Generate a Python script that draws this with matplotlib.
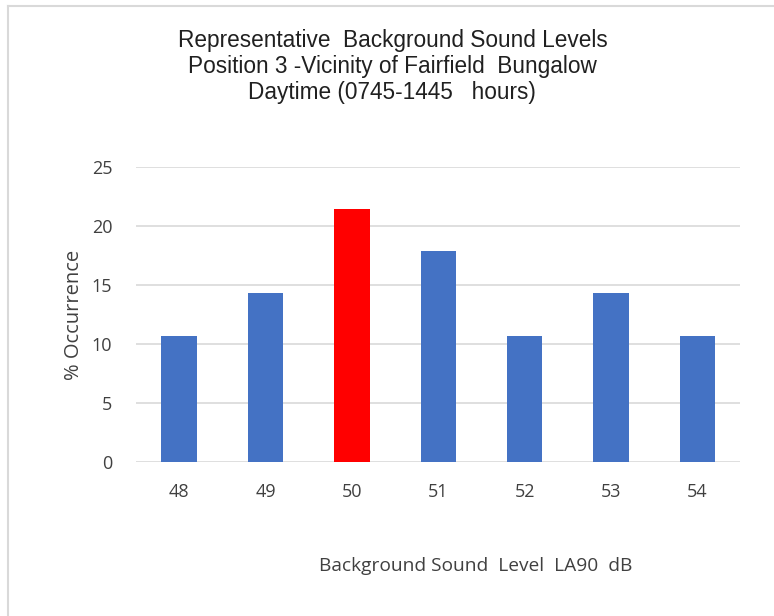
import matplotlib
matplotlib.use("Agg")
import matplotlib.pyplot as plt
from matplotlib.lines import Line2D

levels = ["48", "49", "50", "51", "52", "53", "54"]
occurrence = [10.71, 14.29, 21.43, 17.86, 10.71, 14.29, 10.71]
highlight = "50"

title_lines = [
    "Representative  Background Sound Levels",
    "Position 3 -Vicinity of Fairfield  Bungalow",
    "Daytime (0745-1445   hours)",
]

BLUE = "#4472c4"
RED = "#ff0000"
GRID = "#d9d9d9"
TEXT = "#404040"
body_font = ["Open Sans", "DejaVu Sans"]

fig = plt.figure(figsize=(7.74, 6.16), dpi=100)
ax = fig.add_axes([0.1757, 0.25, 0.781, 0.479])

colors = [RED if lv == highlight else BLUE for lv in levels]
ax.bar(range(len(levels)), occurrence, width=0.41, color=colors, zorder=3)

ax.set_xlim(-0.5, len(levels) - 0.5)
ax.set_ylim(0, 25)
ax.set_yticks(range(0, 26, 5))
ax.set_xticks(range(len(levels)))
ax.set_xticklabels(levels)
ax.yaxis.grid(True, color=GRID, lw=1.2, zorder=0)
ax.tick_params(length=0, labelsize=13, labelcolor=TEXT)
ax.tick_params(axis="x", pad=15)
ax.tick_params(axis="y", pad=17)
for lab in ax.get_xticklabels() + ax.get_yticklabels():
    lab.set_family(body_font)
for s in ax.spines.values():
    s.set_visible(False)

ax.set_ylabel("% Occurrence", fontsize=14.5, color=TEXT, family=body_font,
              labelpad=6)
fig.text(0.614, 0.081, "Background Sound  Level  LA90  dB", ha="center",
         va="center", fontsize=13.8, color=TEXT, family=body_font)

for i, line in enumerate(title_lines):
    fig.text(0.507, 1 - (40 + 26 * i) / 616, line, ha="center", va="center",
             fontsize=16.3, color="#202020", family=["Liberation Sans", "DejaVu Sans"])

# light frame around the chart area (left and top edges visible)
fig.add_artist(Line2D([8 / 774, 8 / 774], [0, 1 - 6 / 616],
                      transform=fig.transFigure, color=GRID, lw=1.5))
fig.add_artist(Line2D([8 / 774, 1], [1 - 6 / 616, 1 - 6 / 616],
                      transform=fig.transFigure, color=GRID, lw=1.5))

fig.savefig("out.png", dpi=100)
